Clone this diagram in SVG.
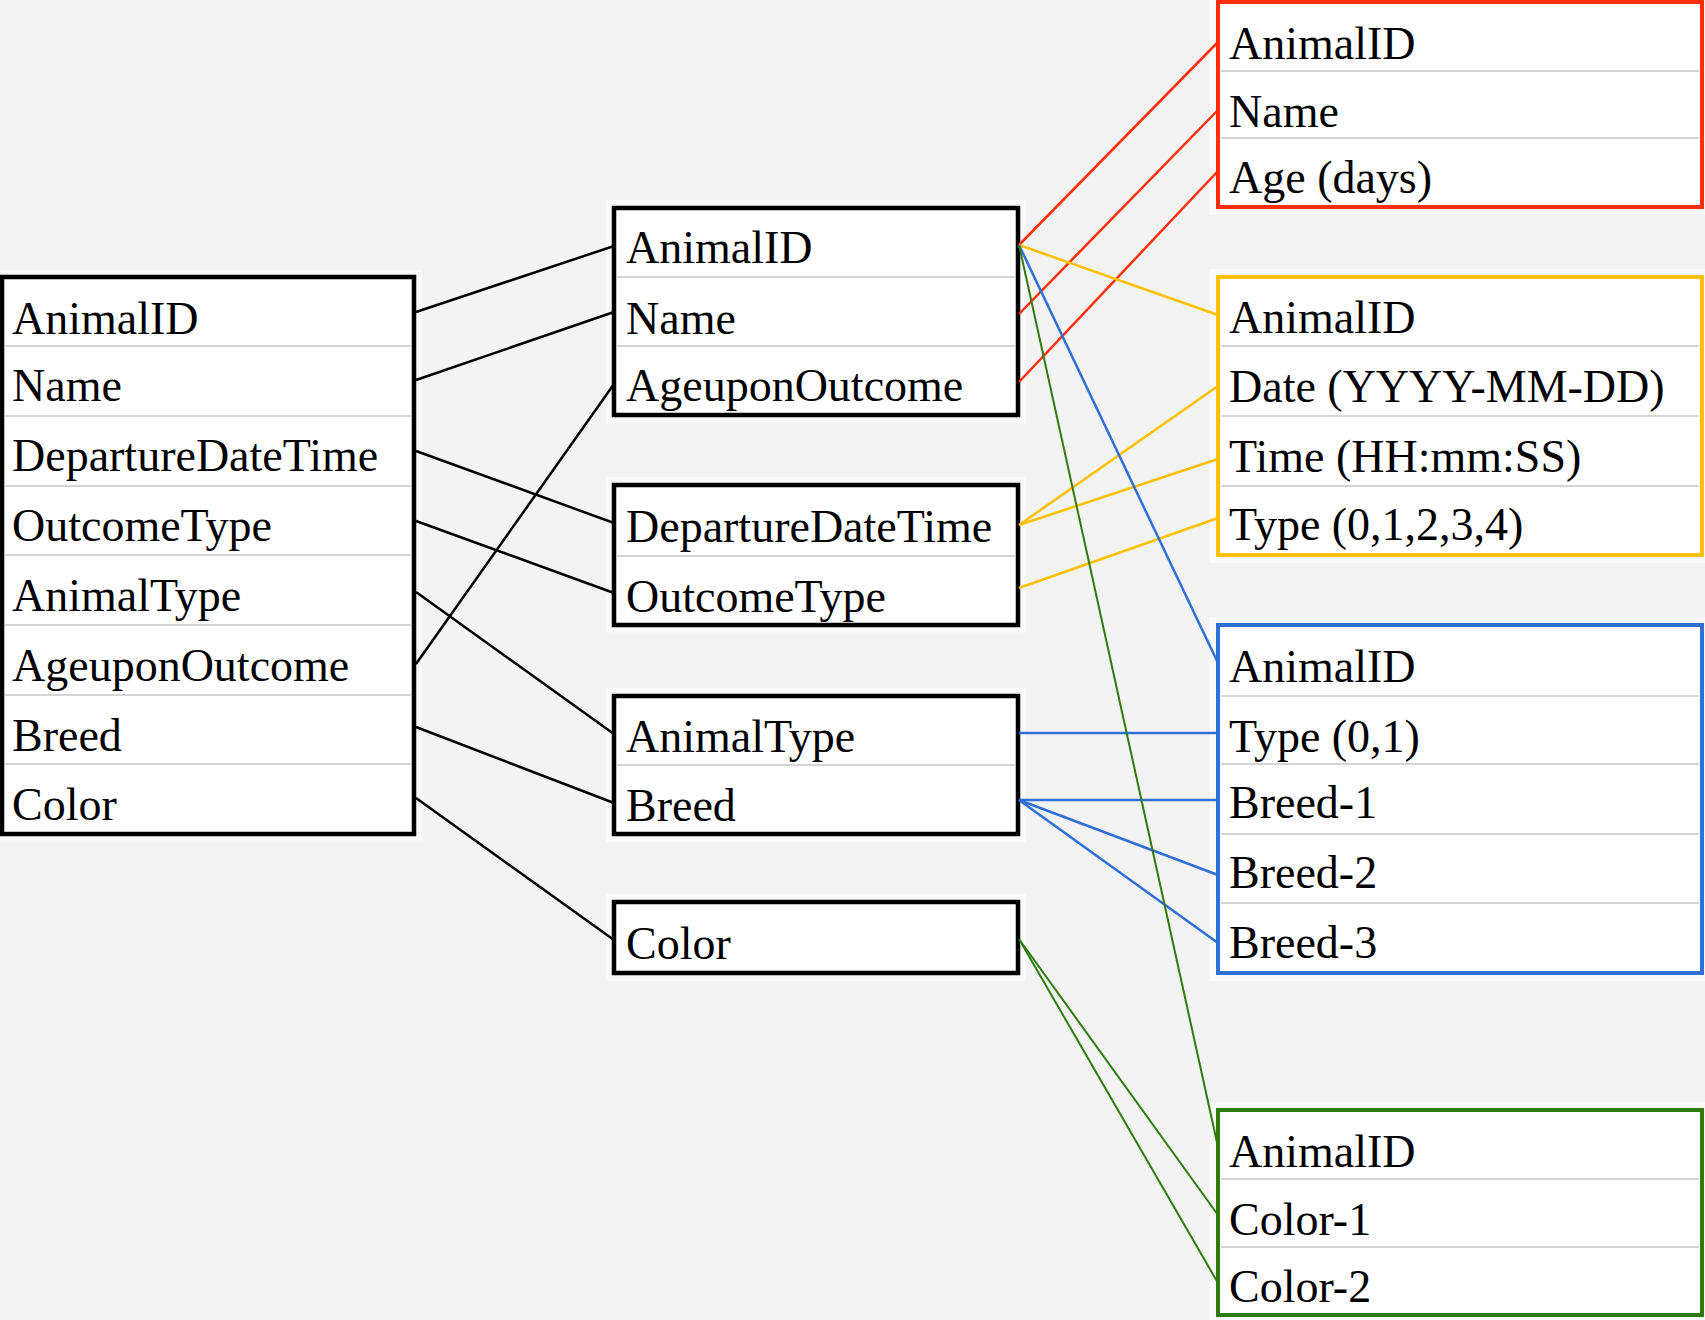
<svg xmlns="http://www.w3.org/2000/svg" width="1705" height="1320" viewBox="0 0 1705 1320">
<style>
.bg{fill:#f3f3f3}
.halo{fill:#f9f9f9}
.box{fill:#ffffff;stroke-width:4}
.blk{stroke:#000000;stroke-width:4.5}
.red{stroke:#ff2d0a}
.yel{stroke:#ffc000}
.blu{stroke:#2f6fd6}
.grn{stroke:#2f7a0e}
.div{stroke:#d4d4d4;stroke-width:2}
text{font-family:"Liberation Serif","Times New Roman",serif;font-size:46px;fill:#000000}
.cb line{stroke:#000000;stroke-width:2.5}
.cr line{stroke:#ff2d0a;stroke-width:2.5}
.cy line{stroke:#ffc000;stroke-width:2.5}
.cu line{stroke:#2f6fd6;stroke-width:2.5}
.cg line{stroke:#2f7a0e;stroke-width:2}
</style>
<rect class="bg" x="0" y="0" width="1705" height="1320"/>

<g id="source-table">
<rect class="halo" x="0" y="270" width="422" height="571"/>
<rect class="box blk" x="2" y="277" width="412" height="557"/>
<line class="div" x1="5" y1="346" x2="411" y2="346"/>
<line class="div" x1="5" y1="416" x2="411" y2="416"/>
<line class="div" x1="5" y1="486" x2="411" y2="486"/>
<line class="div" x1="5" y1="555" x2="411" y2="555"/>
<line class="div" x1="5" y1="625" x2="411" y2="625"/>
<line class="div" x1="5" y1="695" x2="411" y2="695"/>
<line class="div" x1="5" y1="764" x2="411" y2="764"/>
<text x="12" y="334">AnimalID</text>
<text x="12" y="401">Name</text>
<text x="12" y="471">DepartureDateTime</text>
<text x="12" y="541">OutcomeType</text>
<text x="12" y="611">AnimalType</text>
<text x="12" y="681">AgeuponOutcome</text>
<text x="12" y="751">Breed</text>
<text x="12" y="820">Color</text>
</g>

<g id="mid-id-table">
<rect class="halo" x="606" y="200" width="420" height="223"/>
<rect class="box blk" x="614" y="208" width="404" height="207"/>
<line class="div" x1="617" y1="277" x2="1015" y2="277"/>
<line class="div" x1="617" y1="346" x2="1015" y2="346"/>
<text x="626" y="263">AnimalID</text>
<text x="626" y="334">Name</text>
<text x="626" y="401">AgeuponOutcome</text>
</g>

<g id="mid-outcome-table">
<rect class="halo" x="606" y="477" width="420" height="156"/>
<rect class="box blk" x="614" y="485" width="404" height="140"/>
<line class="div" x1="617" y1="556" x2="1015" y2="556"/>
<text x="626" y="542">DepartureDateTime</text>
<text x="626" y="612">OutcomeType</text>
</g>

<g id="mid-type-table">
<rect class="halo" x="606" y="688" width="420" height="154"/>
<rect class="box blk" x="614" y="696" width="404" height="138"/>
<line class="div" x1="617" y1="765" x2="1015" y2="765"/>
<text x="626" y="752">AnimalType</text>
<text x="626" y="821">Breed</text>
</g>

<g id="mid-color-table">
<rect class="halo" x="606" y="894" width="420" height="87"/>
<rect class="box blk" x="614" y="902" width="404" height="71"/>
<text x="626" y="959">Color</text>
</g>

<g id="red-table">
<rect class="halo" x="1210" y="0" width="495" height="215"/>
<rect class="box red" x="1218" y="2" width="484" height="205"/>
<line class="div" x1="1221" y1="71" x2="1699" y2="71"/>
<line class="div" x1="1221" y1="138" x2="1699" y2="138"/>
<text x="1229" y="59">AnimalID</text>
<text x="1229" y="127">Name</text>
<text x="1229" y="193">Age (days)</text>
</g>

<g id="yellow-table">
<rect class="halo" x="1210" y="269" width="495" height="294"/>
<rect class="box yel" x="1218" y="277" width="484" height="278"/>
<line class="div" x1="1221" y1="346" x2="1699" y2="346"/>
<line class="div" x1="1221" y1="416" x2="1699" y2="416"/>
<line class="div" x1="1221" y1="486" x2="1699" y2="486"/>
<text x="1229" y="333">AnimalID</text>
<text x="1229" y="402">Date (YYYY-MM-DD)</text>
<text x="1229" y="472">Time (HH:mm:SS)</text>
<text x="1229" y="540">Type (0,1,2,3,4)</text>
</g>

<g id="blue-table">
<rect class="halo" x="1210" y="617" width="495" height="364"/>
<rect class="box blu" x="1218" y="625" width="484" height="348"/>
<line class="div" x1="1221" y1="696" x2="1699" y2="696"/>
<line class="div" x1="1221" y1="764" x2="1699" y2="764"/>
<line class="div" x1="1221" y1="834" x2="1699" y2="834"/>
<line class="div" x1="1221" y1="903" x2="1699" y2="903"/>
<text x="1229" y="682">AnimalID</text>
<text x="1229" y="752">Type (0,1)</text>
<text x="1229" y="818">Breed-1</text>
<text x="1229" y="888">Breed-2</text>
<text x="1229" y="958">Breed-3</text>
</g>

<g id="green-table">
<rect class="halo" x="1210" y="1102" width="495" height="218"/>
<rect class="box grn" x="1218" y="1110" width="484" height="205"/>
<line class="div" x1="1221" y1="1179" x2="1699" y2="1179"/>
<line class="div" x1="1221" y1="1247" x2="1699" y2="1247"/>
<text x="1229" y="1167">AnimalID</text>
<text x="1229" y="1235">Color-1</text>
<text x="1229" y="1302">Color-2</text>
</g>

<g id="connectors">
<g class="cb">
<line x1="416" y1="312" x2="614" y2="246"/>
<line x1="416" y1="380" x2="614" y2="312"/>
<line x1="416" y1="451" x2="614" y2="523"/>
<line x1="416" y1="521" x2="614" y2="593"/>
<line x1="416" y1="592" x2="614" y2="734"/>
<line x1="416" y1="664" x2="614" y2="384"/>
<line x1="416" y1="727" x2="614" y2="803"/>
<line x1="416" y1="798" x2="614" y2="940"/>
</g>
<g class="cr">
<line x1="1019" y1="245" x2="1218" y2="42"/>
<line x1="1019" y1="314" x2="1218" y2="110"/>
<line x1="1019" y1="382" x2="1218" y2="171"/>
</g>
<g class="cy">
<line x1="1019" y1="245" x2="1218" y2="315"/>
<line x1="1019" y1="525" x2="1218" y2="386"/>
<line x1="1019" y1="525" x2="1218" y2="459"/>
<line x1="1019" y1="588" x2="1218" y2="518"/>
</g>
<g class="cu">
<line x1="1019" y1="245" x2="1218" y2="663"/>
<line x1="1019" y1="733" x2="1218" y2="733"/>
<line x1="1019" y1="800" x2="1218" y2="800"/>
<line x1="1019" y1="800" x2="1218" y2="875"/>
<line x1="1019" y1="800" x2="1218" y2="943"/>
</g>
<g class="cg">
<line x1="1019" y1="245" x2="1218" y2="1147"/>
<line x1="1019" y1="939" x2="1218" y2="1215"/>
<line x1="1019" y1="939" x2="1218" y2="1283"/>
</g>
</g>
</svg>
